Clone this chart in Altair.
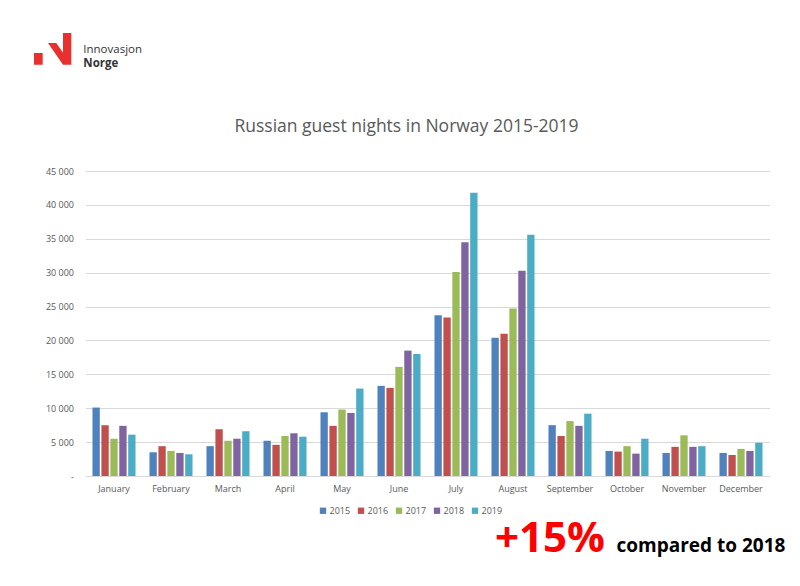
import altair as alt
import pandas as pd

months = ["January", "February", "March", "April", "May", "June", "July",
          "August", "September", "October", "November", "December"]
years = ["2015", "2016", "2017", "2018", "2019"]
v2015 = [10100, 3500, 4400, 5200, 9400, 13300, 23700, 20400, 7500, 3700, 3400, 3400]
v2016 = [7500, 4400, 6900, 4600, 7400, 13000, 23400, 21000, 5900, 3600, 4300, 3100]
v2017 = [5500, 3700, 5200, 5900, 9800, 16100, 30100, 24700, 8100, 4400, 6000, 4000]
v2018 = [7400, 3400, 5500, 6300, 9300, 18500, 34500, 30300, 7400, 3300, 4300, 3700]
v2019 = [6100, 3200, 6600, 5800, 12900, 18000, 41800, 35600, 9200, 5500, 4400, 4900]
colors = ["#4F81BD", "#C0504D", "#9BBB59", "#8064A2", "#4BACC6"]
y_ticks = [0, 5000, 10000, 15000, 20000, 25000, 30000, 35000, 40000, 45000]

series = [v2015, v2016, v2017, v2018, v2019]
rows = []
for yr, vals in zip(years, series):
    for m, v in zip(months, vals):
        rows.append({"month": m, "year": yr, "nights": v})
df = pd.DataFrame(rows)

FONT = "Open Sans"
GREY = "#595959"

bars = alt.Chart(df).mark_bar().encode(
    x=alt.X("month:N", sort=months,
            scale=alt.Scale(paddingInner=0.245, paddingOuter=0.1225),
            axis=alt.Axis(title=None, labelAngle=0, ticks=False, labelPadding=8,
                          labelFont=FONT, labelFontSize=9, labelColor=GREY,
                          domainColor="#d9d9d9", grid=False)),
    xOffset=alt.XOffset("year:N", sort=years,
                        scale=alt.Scale(paddingInner=0.18, paddingOuter=0)),
    y=alt.Y("nights:Q",
            scale=alt.Scale(domain=[0, 45000]),
            axis=alt.Axis(title=None, values=y_ticks, ticks=False, domain=False,
                          labelPadding=12, labelFont=FONT, labelFontSize=9,
                          labelColor=GREY, gridColor="#d9d9d9",
                          labelExpr="datum.value == 0 ? '-' : replace(format(datum.value, ','), ',', ' ')")),
    color=alt.Color("year:N", sort=years,
                    scale=alt.Scale(domain=years, range=colors),
                    legend=alt.Legend(orient="none", legendX=233, legendY=335,
                                      direction="horizontal", title=None,
                                      symbolType="square", symbolSize=40,
                                      symbolStrokeWidth=0, labelFont=FONT,
                                      labelFontSize=9, labelColor=GREY,
                                      labelOffset=2, columnPadding=6, padding=0)),
)

one = pd.DataFrame({"k": [0]})

title = alt.Chart(one).mark_text(
    text="Russian guest nights in Norway 2015-2019", font=FONT, fontSize=17.5,
    color=GREY, align="center", baseline="alphabetic"
).encode(x=alt.value(321), y=alt.value(-39.5))

logo_path = ("M -1 0.219 L -0.535 0.219 L -0.535 0.845 L -1 0.845 Z "
             "M 0.551 -0.85 L 0.995 -0.85 L 0.995 0.845 L 0.551 0.845 Z "
             "M -0.251 -0.316 L 0.193 -0.316 L 0.995 0.845 L 0.551 0.845 Z")
logo = alt.Chart(one).mark_point(
    shape=logo_path, filled=True, size=1399, color="#E8312F", opacity=1,
    strokeWidth=0
).encode(x=alt.value(-32.8), y=alt.value(-122.1))

logo_t1 = alt.Chart(one).mark_text(
    text="Innovasjon", font=FONT, fontSize=11.5, color="#333333",
    align="left", baseline="alphabetic"
).encode(x=alt.value(-2.2), y=alt.value(-117.7))
logo_t2 = alt.Chart(one).mark_text(
    text="Norge", font=FONT, fontSize=11.5, fontWeight="bold", color="#333333",
    align="left", baseline="alphabetic"
).encode(x=alt.value(-2.2), y=alt.value(-104.3))

big = alt.Chart(one).mark_text(
    text="+15%", font=FONT, fontSize=42, fontWeight="bold", color="#FF0000",
    align="left", baseline="alphabetic"
).encode(x=alt.value(409.5), y=alt.value(381.3))
cmp = alt.Chart(one).mark_text(
    text="compared to 2018", font=FONT, fontSize=19, fontWeight="bold",
    color="#000000", align="left", baseline="alphabetic"
).encode(x=alt.value(531), y=alt.value(381.3))

chart = alt.layer(bars, title, logo, logo_t1, logo_t2, big, cmp).properties(
    width=684, height=305,
    autosize=alt.AutoSizeParams(type="none"),
    padding={"left": 77.5, "top": 163, "right": 22.5, "bottom": 100},
    background="white",
).configure_view(stroke=None)

chart.save("out.html", embed_options={"renderer": "svg", "actions": False})
